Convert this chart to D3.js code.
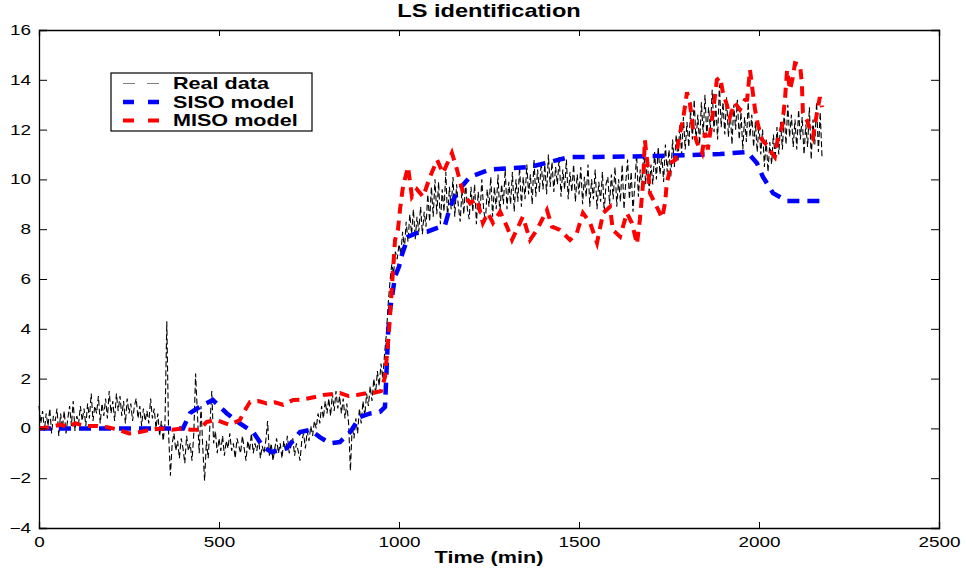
<!DOCTYPE html>
<html>
<head>
<meta charset="utf-8">
<script src="https://cdn.jsdelivr.net/npm/d3@7"></script>
<style>
  body { margin: 0; background: #fff; }
  svg { font-family: "Liberation Sans", Arial, Helvetica, sans-serif; }
  /* the original figure is stretched sideways, so the text is too */
  .wide { transform-box: fill-box; transform: scaleX(1.35); }
  .wide-mid { transform-origin: center; }
  .wide-end { transform-origin: right center; }
  .wide-start { transform-origin: left center; }
</style>
</head>
<body>
<div id="chart"></div>
<script>
const width = 966;
const height = 570;
const margin = { top: 30, right: 27, bottom: 42, left: 39 };

const xTicks = [0, 500, 1000, 1500, 2000, 2500];
const yTicks = [-4, -2, 0, 2, 4, 6, 8, 10, 12, 14, 16];

// measured data, one sample every 5 min from t = 0
const realStep = 5;
const realData = [
  0.9, 0.2, 0.7, -0.1, 0.6, 0.1, 0.8, -0.2, 0.5, 0.3, 0.8, -0.3, 0.6, 0.0, 0.7, -0.2, 0.4, 0.9, 0.1, 1.1, -0.1,
  0.5, 0.2, 0.9, 0.3, 0.8, 0.1, 1.0, 0.4, 1.4, 0.3, 0.9, 0.6, 1.3, 0.2, 1.0, 0.5, 1.2, 0.4, 1.5, 0.6,
  1.1, 0.3, 1.4, 0.7, 1.3, 0.5, 1.1, 0.2, 1.2, 0.6, 1.0, 0.3, 0.9, 1.2, 0.4, 0.9, 0.1, 0.8, 0.3, 0.7,
  0.2, 1.2, 0.4, 0.8, 0.0, 0.6, -0.3, 0.3, -0.5, 0.2, 4.3, -0.2, -1.9, -0.6, -0.2, -0.9, -0.5, -1.2, -0.4, -0.8,
  -1.4, -0.3, -0.9, -0.6, -1.3, -0.2, 2.2, 0.6, -1.0, 0.9, -0.8, -2.1, -0.5, -1.2, 0.2, 1.5, -0.6, -0.1, -1.0, -0.4,
  -0.9, -0.3, -1.1, -0.5, -0.8, -0.2, -0.9, -0.6, -1.2, -0.4, -0.7, -1.0, -0.3, -0.8, -1.3, -0.5, -0.9, -0.2, -1.0, -0.6,
  -0.9, -0.4, -1.2, -0.7, -1.0, -0.5, 0.3, -1.1, -0.6, -1.3, -0.8, -0.4, -1.0, -0.6, -1.2, -0.5, -0.9, -0.3, -1.0, -0.7,
  -0.4, -1.1, -0.6, -0.9, -1.3, -0.5, -0.2, -0.8, -0.1, -0.5, 0.1, -0.3, 0.3, 0.0, 0.6, 0.2, 0.9, 0.4, 1.1, 0.6,
  1.2, 0.5, 1.4, 0.7, 1.5, 0.8, 1.3, 0.6, 1.2, 0.4, 1.0, 0.2, -1.7, 0.1, -0.4, 0.4, -0.2, 0.8, 0.2, 1.1,
  0.5, 1.4, 0.9, 1.7, 1.1, 2.0, 1.4, 2.3, 1.7, 2.6, 2.0, 3.0, 3.8, 5.0, 5.9, 6.6, 6.2, 7.1, 6.8, 7.4,
  7.0, 7.9, 7.2, 8.3, 7.5, 8.6, 7.8, 8.8, 7.6, 8.5, 7.9, 8.9, 7.8, 8.7, 8.1, 9.4, 8.3, 9.7, 8.5, 10.0,
  8.6, 9.9, 8.2, 9.6, 8.7, 10.3, 8.4, 9.7, 8.8, 10.1, 8.5, 9.8, 8.9, 8.3, 9.6, 8.6, 9.9, 8.8, 8.4, 9.7,
  8.7, 9.8, 8.2, 9.5, 8.6, 10.0, 8.8, 8.3, 9.6, 8.9, 10.1, 8.5, 9.7, 8.8, 10.2, 8.6, 9.8, 9.0, 10.4, 8.8,
  9.9, 9.0, 10.3, 8.7, 10.0, 9.1, 10.5, 8.9, 10.1, 9.2, 10.6, 9.4, 10.2, 9.0, 10.8, 9.3, 10.4, 9.5, 10.7, 9.6,
  10.6, 9.4, 11.0, 9.7, 10.7, 9.5, 10.5, 9.8, 10.9, 9.3, 10.4, 9.6, 10.8, 9.2, 10.3, 9.5, 10.6, 9.1, 10.2, 9.4,
  10.5, 9.0, 10.1, 9.3, 10.6, 8.9, 10.0, 9.2, 10.4, 8.8, 9.9, 9.1, 10.3, 8.7, 9.8, 10.1, 9.0, 10.2, 9.2, 10.5,
  8.9, 10.0, 9.1, 10.6, 8.8, 9.9, 10.8, 9.2, 10.3, 8.7, 9.8, 11.0, 9.3, 10.4, 9.6, 11.2, 9.8, 10.8, 9.5, 10.6,
  9.8, 11.1, 10.0, 11.3, 10.2, 11.0, 9.9, 11.4, 10.3, 11.2, 10.1, 11.6, 10.5, 11.8, 10.7, 12.2, 11.0, 12.5, 11.2, 12.3,
  11.3, 12.8, 11.6, 13.2, 11.5, 12.6, 11.4, 13.1, 11.8, 13.4, 11.7, 12.9, 12.0, 13.6, 11.9, 13.0, 11.6, 13.8, 12.1, 13.1,
  11.8, 13.3, 11.7, 12.8, 11.4, 13.0, 12.0, 13.2, 11.6, 12.7, 11.2, 12.5, 11.5, 13.1, 11.7, 12.6, 11.3, 12.3, 11.1, 12.2,
  11.0, 12.0, 10.5, 11.6, 10.3, 11.5, 10.6, 11.8, 10.8, 12.1, 11.0, 12.3, 11.2, 12.7, 11.4, 13.0, 11.7, 12.6, 11.3, 12.4,
  11.2, 12.8, 11.6, 12.5, 11.0, 12.2, 11.3, 12.9, 10.8, 12.4, 11.4, 13.1, 11.1, 12.7, 10.9
];

// SISO model output [time, value]
const sisoData = [
  [0, 0], [400, 0], [420, 0.62], [450, 0.9], [483, 1.14], [522, 0.6], [558, 0.2], [595, -0.15],
  [623, -0.75], [646, -0.95], [688, -0.8], [725, -0.15], [753, -0.06], [780, -0.35], [808, -0.6],
  [836, -0.55], [864, -0.15], [892, 0.46], [920, 0.6], [947, 0.66], [961, 0.86], [966, 2.5],
  [970, 3.9], [975, 4.75], [989, 6.1], [1000, 6.5], [1008, 6.96], [1025, 7.7], [1050, 7.85],
  [1078, 7.9], [1128, 8.17], [1142, 8.9], [1161, 9.5], [1197, 10.1], [1253, 10.4], [1364, 10.5],
  [1419, 10.7], [1475, 10.9], [1550, 10.9], [1725, 10.94], [1892, 11.02], [1967, 11.1], [1994, 10.66],
  [2011, 10.1], [2039, 9.45], [2078, 9.13], [2175, 9.13]
];

// MISO model output [time, value]
const misoData = [
  [0, 0.0], [30, 0.05], [60, 0.15], [80, 0.05], [100, 0.2], [130, 0.1], [160, 0.1], [190, 0.05],
  [220, -0.05], [250, -0.2], [280, -0.15], [310, -0.05], [340, 0.0], [370, -0.05], [400, 0.0],
  [420, -0.05], [445, -0.05], [466, 0.26], [493, 0.34], [530, 0.14], [558, 0.34], [575, 0.8],
  [586, 1.06], [610, 1.1], [632, 1.0], [655, 1.05], [678, 0.95], [706, 1.14], [730, 1.15],
  [753, 1.22], [790, 1.34], [836, 1.42], [860, 1.3], [883, 1.34], [905, 1.4], [928, 1.42],
  [950, 1.5], [961, 2.06], [970, 3.5], [975, 4.5], [981, 5.84], [989, 7.57], [997, 7.97],
  [1003, 8.8], [1010, 9.6], [1017, 10.05], [1025, 10.5], [1036, 9.3], [1050, 9.6], [1067, 9.3],
  [1086, 10.1], [1106, 10.78], [1122, 10.25], [1147, 11.06], [1161, 10.4], [1178, 9.45],
  [1197, 9.05], [1217, 9.2], [1233, 8.25], [1247, 8.65], [1261, 8.25], [1281, 8.7], [1300, 8.1],
  [1314, 7.57], [1331, 8.1], [1344, 8.5], [1364, 7.57], [1383, 7.97], [1397, 8.37], [1411, 8.77],
  [1425, 8.1], [1447, 7.97], [1475, 7.57], [1494, 7.85], [1511, 8.65], [1531, 8.25], [1550, 7.45],
  [1567, 8.65], [1586, 8.9], [1594, 7.97], [1614, 7.7], [1633, 8.65], [1647, 8.25], [1661, 7.4],
  [1669, 8.37], [1678, 9.86], [1683, 11.58], [1692, 10.4], [1697, 9.45], [1711, 9.05], [1731, 8.45],
  [1739, 9.05], [1744, 9.86], [1758, 10.7], [1767, 10.78], [1781, 11.9], [1789, 12.4], [1800, 13.5],
  [1808, 13.07], [1817, 12.0], [1828, 11.47], [1842, 11.06], [1850, 11.87], [1858, 11.2],
  [1872, 12.67], [1883, 14.0], [1892, 14.1], [1900, 13.47], [1911, 12.99], [1919, 12.5],
  [1933, 13.07], [1947, 12.8], [1961, 13.19], [1967, 13.2], [1975, 14.4], [1981, 13.7],
  [1989, 12.8], [1997, 12.2], [2008, 11.6], [2022, 11.38], [2036, 11.06], [2044, 10.9],
  [2053, 11.7], [2064, 12.1], [2072, 13.19], [2078, 14.4], [2086, 13.6], [2094, 14.1],
  [2100, 14.67], [2114, 14.6], [2119, 13.87], [2122, 12.67], [2133, 12.38], [2142, 12.0],
  [2150, 11.7], [2161, 12.67], [2169, 13.3], [2175, 12.9]
];

const legendItems = [
  { label: "Real data", color: "#000", width: 1, dash: "12,12" },
  { label: "SISO model", color: "#0000ff", width: 4.5, dash: "11,14" },
  { label: "MISO model", color: "#ff0000", width: 4, dash: "11,14" }
];

const x = d3.scaleLinear().domain([0, 2500]).range([margin.left, width - margin.right]);
const y = d3.scaleLinear().domain([-4, 16]).range([height - margin.bottom, margin.top]);

const svg = d3.select("#chart").append("svg")
  .attr("width", width)
  .attr("height", height);

const line = d3.line().x((d) => x(d[0])).y((d) => y(d[1]));

const real = realData.map((v, i) => [i * realStep, v]);

svg.append("path")
  .datum(real)
  .attr("d", line)
  .attr("fill", "none")
  .attr("stroke", "#000")
  .attr("stroke-width", 1.1)
  .attr("stroke-dasharray", "6,3");

svg.append("path")
  .datum(sisoData)
  .attr("d", line)
  .attr("fill", "none")
  .attr("stroke", "#0000ff")
  .attr("stroke-width", 4.5)
  .attr("stroke-dasharray", "12,8");

svg.append("path")
  .datum(misoData)
  .attr("d", line)
  .attr("fill", "none")
  .attr("stroke", "#ff0000")
  .attr("stroke-width", 4)
  .attr("stroke-dasharray", "10,7");

// axes: box with inward ticks on all sides
const xAxis = d3.axisBottom(x).tickValues(xTicks).tickSize(-6).tickPadding(9).tickFormat(d3.format("d"));
const yAxis = d3.axisLeft(y).tickValues(yTicks).tickSize(-8).tickPadding(8).tickFormat(d3.format("d"));

const gx = svg.append("g")
  .attr("transform", `translate(0,${height - margin.bottom})`)
  .call(xAxis);
const gy = svg.append("g")
  .attr("transform", `translate(${margin.left},0)`)
  .call(yAxis);
svg.append("g")
  .attr("transform", `translate(0,${margin.top})`)
  .call(d3.axisTop(x).tickValues(xTicks).tickSize(-6).tickFormat(""));
svg.append("g")
  .attr("transform", `translate(${width - margin.right},0)`)
  .call(d3.axisRight(y).tickValues(yTicks).tickSize(-8).tickFormat(""));

svg.selectAll(".domain").attr("stroke", "#000").attr("stroke-width", 1.3);
svg.selectAll(".tick line").attr("stroke", "#000");
svg.selectAll(".tick text")
  .attr("font-size", 14)
  .attr("fill", "#000")
  .attr("font-family", "'Liberation Sans', Arial, sans-serif");
gx.selectAll(".tick text").attr("class", "wide wide-mid");
gy.selectAll(".tick text").attr("class", "wide wide-end");

// title and axis label
svg.append("text")
  .attr("class", "wide wide-mid")
  .attr("x", (margin.left + width - margin.right) / 2)
  .attr("y", 17.5)
  .attr("text-anchor", "middle")
  .attr("font-size", 17.5)
  .attr("font-weight", "bold")
  .text("LS identification");

svg.append("text")
  .attr("class", "wide wide-mid")
  .attr("x", (margin.left + width - margin.right) / 2)
  .attr("y", 563)
  .attr("text-anchor", "middle")
  .attr("font-size", 16)
  .attr("font-weight", "bold")
  .text("Time (min)");

// legend
const legend = svg.append("g").attr("transform", "translate(111,73)");
legend.append("rect")
  .attr("width", 201)
  .attr("height", 58)
  .attr("fill", "#fff")
  .attr("stroke", "#000")
  .attr("stroke-width", 1.2);

const rows = legend.selectAll("g.row")
  .data(legendItems)
  .enter()
  .append("g")
  .attr("class", "row")
  .attr("transform", (d, i) => `translate(0,${10.5 + i * 18.5})`);

rows.append("line")
  .attr("x1", 12)
  .attr("x2", 49)
  .attr("stroke", (d) => d.color)
  .attr("stroke-width", (d) => d.width)
  .attr("stroke-dasharray", (d) => d.dash)
  .attr("stroke-opacity", (d, i) => (i === 0 ? 0.5 : 1));

rows.append("text")
  .attr("class", "wide wide-start")
  .attr("x", 62)
  .attr("y", 5.5)
  .attr("font-size", 16)
  .attr("font-weight", "bold")
  .text((d) => d.label);
</script>
</body>
</html>
